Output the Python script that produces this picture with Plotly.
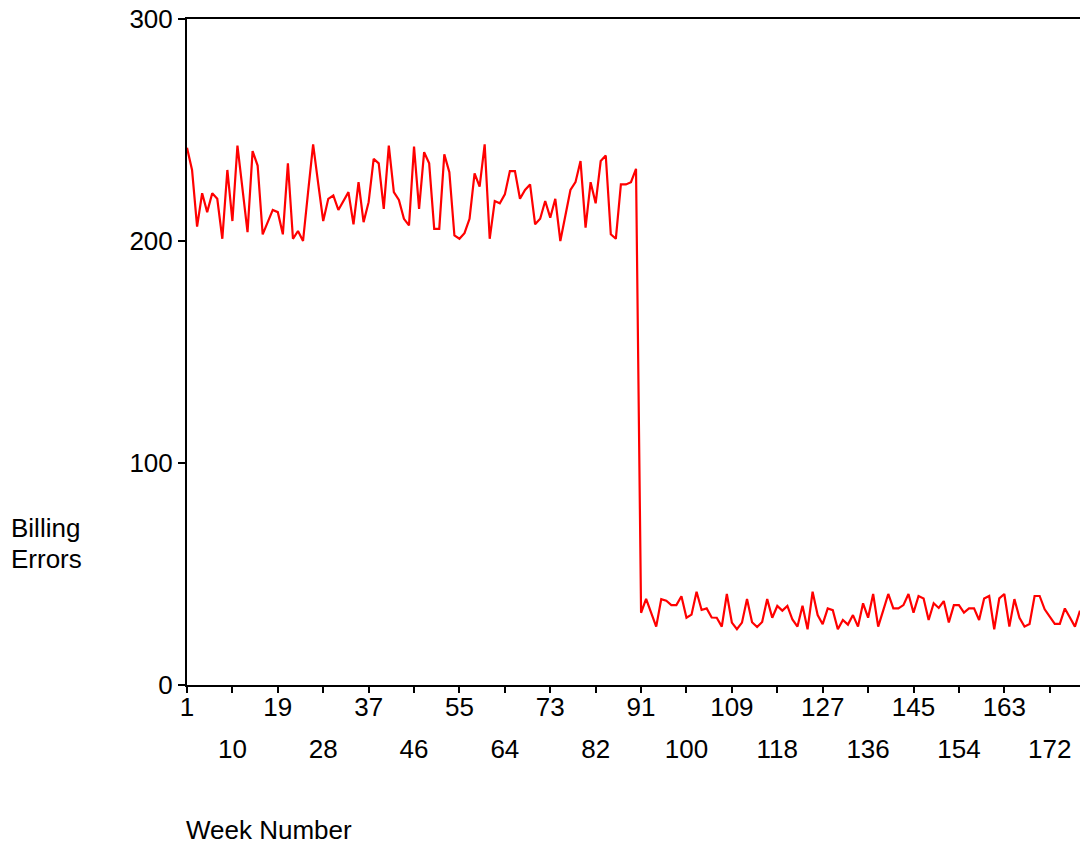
import plotly.graph_objects as go

weeks = list(range(1, 179))
billing_errors = [
    242, 232, 206.5, 221.5, 213, 221.5, 219, 201, 232, 209,
    243, 224, 204, 240.5, 234, 203, 208.5, 214, 213, 203,
    235, 201, 204.5, 200, 222, 243.5, 226, 209, 219, 220.5,
    214, 218, 222, 207.5, 226.5, 208.5, 217.5, 237, 235, 214.5,
    243, 222, 218.5, 210, 207, 242.5, 214.5, 240, 235, 205.5,
    205.5, 239, 231, 202.5, 201, 203.5, 210, 230.5, 224.5, 243.5,
    201, 218, 217, 221, 231.5, 231.5, 219, 223, 225.5, 207.5,
    210, 218, 210.5, 219, 200, 211.5, 223, 226.5, 236, 206,
    226.5, 217, 236, 238.5, 203, 201, 225.5, 225.5, 226.5, 232.5,
    32.5, 38.8, 32.5, 26.3, 38.7, 38, 36, 36, 40, 30.3,
    31.7, 42, 33.8, 34.5, 30.4, 30.3, 26.3, 41, 28.1, 25.1,
    28.1, 38.7, 28.3, 26.1, 28.4, 38.7, 30.3, 35.6, 33.5, 35.6,
    29.5, 26.3, 35.7, 25.1, 42, 31.5, 27.4, 34.5, 33.7, 25.1,
    29.3, 27.2, 31.5, 26.3, 36.8, 30.3, 41, 26.3, 33.6, 41,
    34.5, 34.5, 36, 41, 32.6, 40.1, 39, 29.3, 36.8, 34.7,
    37.8, 28.2, 36, 36, 32.6, 34.5, 34.5, 29.3, 39, 40.1,
    25.1, 39, 41, 26.3, 38.7, 30.3, 26.3, 27.5, 40.1, 40.1,
    34.1, 30.8, 27.5, 27.5, 34.5, 30.4, 26.3, 33.5,
]
tick_row1 = [1, 19, 37, 55, 73, 91, 109, 127, 145, 163]
tick_row2 = [10, 28, 46, 64, 82, 100, 118, 136, 154, 172]
y_ticks = [0, 100, 200, 300]

FONT = "Liberation Sans, Arial, sans-serif"
fs = 26

fig = go.Figure()
fig.add_trace(go.Scatter(x=weeks, y=billing_errors, mode="lines",
                         line=dict(color="#FF0000", width=2.2),
                         showlegend=False, hoverinfo="skip"))
fig.add_trace(go.Scatter(x=weeks, y=billing_errors, mode="lines",
                         line=dict(color="rgba(0,0,0,0)", width=0),
                         xaxis="x2", showlegend=False, hoverinfo="skip"))

all_ticks = sorted(tick_row1 + tick_row2)
fig.update_layout(
    width=1081, height=844,
    margin=dict(l=187, r=1, t=19, b=159),
    paper_bgcolor="white", plot_bgcolor="white",
    font=dict(family=FONT, size=fs, color="black"),
    xaxis=dict(range=[1, 178], tickvals=all_ticks,
               ticktext=[str(t) if t in tick_row1 else "" for t in all_ticks],
               ticks="outside", ticklen=6, tickwidth=1.5, tickcolor="black",
               showline=True, linecolor="black", linewidth=2, mirror=True,
               showgrid=False, zeroline=False, ticklabelstandoff=-8,
               tickfont=dict(family=FONT, size=fs, color="black")),
    xaxis2=dict(range=[1, 178], overlaying="x", anchor="y", side="bottom",
                tickvals=tick_row2, ticktext=[str(t) for t in tick_row2],
                ticks="", showline=False, showgrid=False, zeroline=False,
                ticklabelstandoff=46,
                tickfont=dict(family=FONT, size=fs, color="black")),
    yaxis=dict(range=[0, 300], tickvals=y_ticks,
               ticks="outside", ticklen=7, tickwidth=1.5, tickcolor="black",
               showline=True, linecolor="black", linewidth=2,
               showgrid=False, zeroline=False, ticklabelstandoff=0,
               tickfont=dict(family=FONT, size=fs, color="black")),
    annotations=[
        dict(text="Billing", xref="paper", yref="paper", x=(9-187)/893, y=(685-528)/666,
             xanchor="left", yanchor="middle", showarrow=False,
             font=dict(family=FONT, size=fs, color="black")),
        dict(text="Errors", xref="paper", yref="paper", x=(9-187)/893, y=(685-559)/666,
             xanchor="left", yanchor="middle", showarrow=False,
             font=dict(family=FONT, size=fs, color="black")),
        dict(text="Week Number", xref="paper", yref="paper", x=-3/893, y=(685-830)/666,
             xanchor="left", yanchor="middle", showarrow=False,
             font=dict(family=FONT, size=fs, color="black")),
    ],
)
fig.write_html("out.html", config={"displayModeBar": False})

with open("out.html", "r", encoding="utf-8") as f:
    html = f.read()
html = html.replace("<head>", "<head><style>html,body{margin:0;padding:0;overflow:hidden;}</style>", 1)
with open("out.html", "w", encoding="utf-8") as f:
    f.write(html)
